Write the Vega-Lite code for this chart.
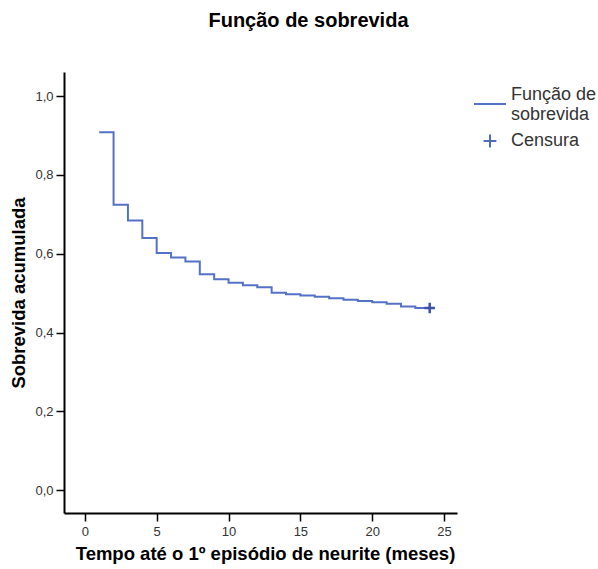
{
  "$schema": "https://vega.github.io/schema/vega-lite/v6.json",
  "autosize": {"type": "none"},
  "width": 393,
  "height": 441,
  "padding": {"left": 64, "top": 72, "right": 141, "bottom": 56},
  "background": "white",
  "config": {
    "view": {"stroke": null},
    "font": "Liberation Sans"
  },
  "title": {
    "text": "Função de sobrevida",
    "font": "Liberation Sans",
    "fontSize": 20,
    "fontWeight": "bold",
    "color": "#000000",
    "anchor": "middle",
    "frame": "group",
    "dx": 48,
    "offset": 41
  },
  "data": {
    "values": [
      {"t": 1, "s": 0.908, "tipo": "Função de sobrevida"},
      {"t": 2, "s": 0.724, "tipo": "Função de sobrevida"},
      {"t": 3, "s": 0.684, "tipo": "Função de sobrevida"},
      {"t": 4, "s": 0.640, "tipo": "Função de sobrevida"},
      {"t": 5, "s": 0.602, "tipo": "Função de sobrevida"},
      {"t": 6, "s": 0.590, "tipo": "Função de sobrevida"},
      {"t": 7, "s": 0.580, "tipo": "Função de sobrevida"},
      {"t": 8, "s": 0.548, "tipo": "Função de sobrevida"},
      {"t": 9, "s": 0.535, "tipo": "Função de sobrevida"},
      {"t": 10, "s": 0.526, "tipo": "Função de sobrevida"},
      {"t": 11, "s": 0.520, "tipo": "Função de sobrevida"},
      {"t": 12, "s": 0.515, "tipo": "Função de sobrevida"},
      {"t": 13, "s": 0.501, "tipo": "Função de sobrevida"},
      {"t": 14, "s": 0.497, "tipo": "Função de sobrevida"},
      {"t": 15, "s": 0.494, "tipo": "Função de sobrevida"},
      {"t": 16, "s": 0.491, "tipo": "Função de sobrevida"},
      {"t": 17, "s": 0.487, "tipo": "Função de sobrevida"},
      {"t": 18, "s": 0.483, "tipo": "Função de sobrevida"},
      {"t": 19, "s": 0.480, "tipo": "Função de sobrevida"},
      {"t": 20, "s": 0.477, "tipo": "Função de sobrevida"},
      {"t": 21, "s": 0.473, "tipo": "Função de sobrevida"},
      {"t": 22, "s": 0.466, "tipo": "Função de sobrevida"},
      {"t": 23, "s": 0.462, "tipo": "Função de sobrevida"},
      {"t": 24, "s": 0.462, "tipo": "Censura"}
    ]
  },
  "layer": [
    {
      "mark": {
        "type": "line",
        "interpolate": "step-after",
        "strokeWidth": 2
      },
      "encoding": {
        "x": {
          "field": "t",
          "type": "quantitative",
          "scale": {"domain": [-1.45, 25.9], "nice": false, "zero": false},
          "axis": {
            "title": "Tempo até o 1º episódio de neurite (meses)",
            "values": [0, 5, 10, 15, 20, 25],
            "grid": false,
            "domainColor": "#000000",
            "domainWidth": 2,
            "tickColor": "#000000",
            "tickWidth": 1.5,
            "tickSize": 8,
            "labelFont": "Liberation Sans",
            "labelFontSize": 13,
            "labelColor": "#333333",
            "labelPadding": 4,
            "titleFont": "Liberation Sans",
            "titleFontSize": 18.5,
            "titleFontWeight": "bold",
            "titleColor": "#000000",
            "titlePadding": 6,
            "titleX": 201
          }
        },
        "y": {
          "field": "s",
          "type": "quantitative",
          "scale": {"domain": [-0.058, 1.061], "nice": false, "zero": false},
          "axis": {
            "title": "Sobrevida acumulada",
            "values": [0, 0.2, 0.4, 0.6, 0.8, 1.0],
            "labelExpr": "replace(format(datum.value, '.1f'), '.', ',')",
            "grid": false,
            "domainColor": "#000000",
            "domainWidth": 2,
            "tickColor": "#000000",
            "tickWidth": 1.5,
            "tickSize": 8,
            "labelFont": "Liberation Sans",
            "labelFontSize": 13,
            "labelColor": "#333333",
            "labelPadding": 3,
            "titleFont": "Liberation Sans",
            "titleFontSize": 18.5,
            "titleFontWeight": "bold",
            "titleColor": "#000000",
            "titlePadding": 6
          }
        },
        "color": {
          "datum": "Função de sobrevida",
          "type": "nominal",
          "scale": {"domain": ["Função de sobrevida"], "range": ["#5571c7"]},
          "legend": {
            "title": null,
            "orient": "none",
            "legendX": 409,
            "legendY": 15,
            "padding": 0,
            "symbolType": "stroke",
            "symbolSize": 1024,
            "symbolStrokeWidth": 2,
            "labelFont": "Liberation Sans",
            "labelFontSize": 18,
            "labelColor": "#333333",
            "labelOffset": 4,
            "labelLimit": 200,
            "labelBaseline": "bottom",
            "labelExpr": "['Função de', 'sobrevida']"
          }
        }
      }
    },
    {
      "transform": [{"filter": "datum.tipo == 'Censura'"}],
      "mark": {
        "type": "point",
        "filled": false,
        "stroke": "#3a52a8",
        "strokeWidth": 2.5,
        "size": 676,
        "opacity": 1
      },
      "encoding": {
        "x": {"field": "t", "type": "quantitative"},
        "y": {"field": "s", "type": "quantitative"},
        "shape": {
          "field": "tipo",
          "type": "nominal",
          "scale": {
            "domain": ["Censura"],
            "range": ["M-0.4,0H0.4M0,-0.4V0.4"]
          },
          "legend": {
            "title": null,
            "orient": "none",
            "legendX": 409,
            "legendY": 52,
            "padding": 0,
            "symbolSize": 1024,
            "symbolStrokeColor": "#4f6bc0",
            "symbolStrokeWidth": 2,
            "symbolFillColor": "transparent",
            "symbolOpacity": 1,
            "labelFont": "Liberation Sans",
            "labelFontSize": 18,
            "labelColor": "#333333",
            "labelOffset": 4,
            "labelLimit": 200
          }
        }
      }
    }
  ]
}
